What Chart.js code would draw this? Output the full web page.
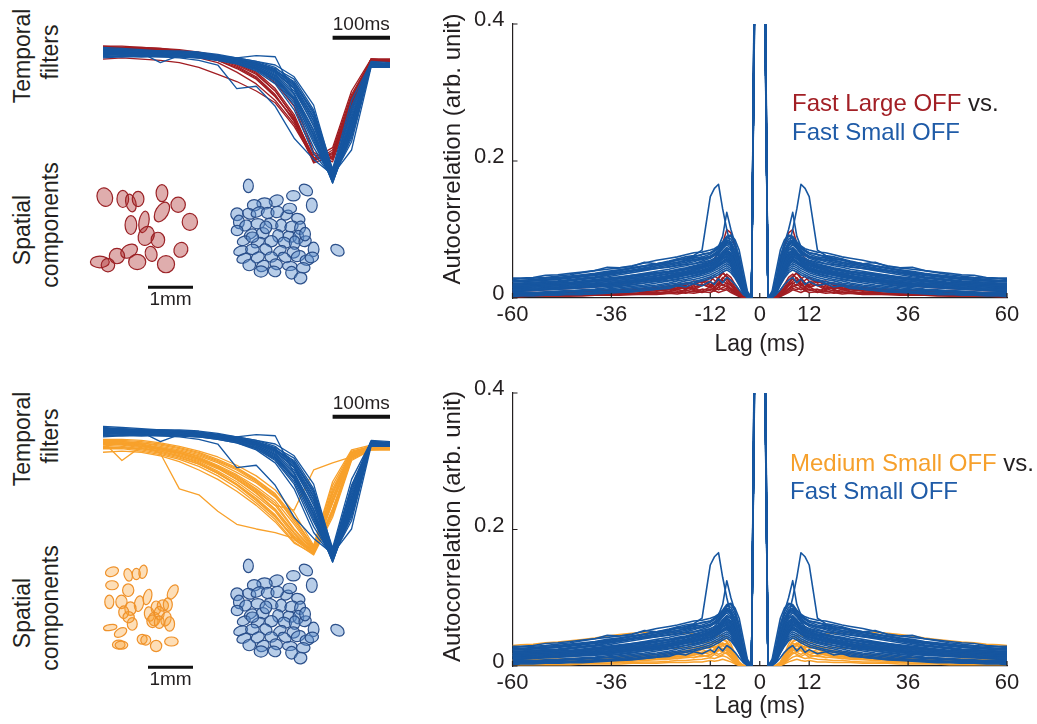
<!DOCTYPE html>
<html lang="en">
<head>
<meta charset="UTF-8">
<title>OFF cell autocorrelations</title>
<script src="https://cdn.jsdelivr.net/npm/chart.js@4"></script>
<style>
  html, body { margin: 0; padding: 0; background: #fff; }
  body {
    width: 1037px; height: 724px; position: relative; overflow: hidden;
    font-family: "Liberation Sans", Arial, sans-serif; color: #231f20;
  }
  canvas { position: absolute; }
  .side {
    position: absolute; font-size: 23px; white-space: nowrap;
    transform: translate(-50%, -50%) rotate(-90deg);
  }
  .key { position: absolute; font-size: 24px; white-space: nowrap; line-height: 29px; }
</style>
</head>
<body>

<div class="side" style="left:22px; top:56px">Temporal</div>
<div class="side" style="left:50px; top:52px">filters</div>
<div class="side" style="left:22px; top:230px">Spatial</div>
<div class="side" style="left:50px; top:225px">components</div>
<div class="side" style="left:22px; top:439px">Temporal</div>
<div class="side" style="left:50px; top:436px">filters</div>
<div class="side" style="left:22px; top:613px">Spatial</div>
<div class="side" style="left:50px; top:608px">components</div>

<canvas id="filtTop" width="315" height="195" style="left:88px; top:0px"></canvas>
<canvas id="spatTop" width="290" height="140" style="left:80px; top:170px"></canvas>
<canvas id="acTop" width="607" height="362" style="left:430px; top:0px"></canvas>
<canvas id="filtBot" width="315" height="195" style="left:88px; top:379px"></canvas>
<canvas id="spatBot" width="290" height="140" style="left:80px; top:550px"></canvas>
<canvas id="acBot" width="607" height="355" style="left:430px; top:369px"></canvas>

<div class="key" style="left:792px; top:88px"><span style="color:#a21f25">Fast Large OFF</span> vs.</div>
<div class="key" style="left:792px; top:117px; color:#1f5ba7">Fast Small OFF</div>
<div class="key" style="left:790px; top:448px"><span style="color:#f6a02c">Medium Small OFF</span> vs.</div>
<div class="key" style="left:790px; top:476px; color:#1f5ba7">Fast Small OFF</div>

<script>
const FONT = '"Liberation Sans", Arial, sans-serif';
const INK = '#231f20';
const BLUE = '#1656a0', RED = '#a11d22', ORANGE = '#f8a12b';

// lags (ms) on one side of zero; autocorrelations are symmetric so the
// negative side is the mirror image
const halfLags = [1,2,3,4,5,6,7,8,9,10,11,12,14,16,18,20,22,25,28,31,34,37,40,43,46,49,52,55,58,60];
const lagTicks = [-60,-36,-12,0,12,36,60];
const acTicks = [0,0.2,0.4];

// Fast Small OFF autocorrelations (arb. unit), one row per cell
const fastSmallAC = [
  [0.62,0,0.01,0.04,0.07,0.085,0.092,0.09,0.082,0.076, 0.072,0.07,0.067,0.066,0.063,0.06,0.058,0.055,0.051,0.047, 0.044,0.042,0.04,0.037,0.034,0.032,0.03,0.029,0.028,0.027],
  [0.58,0,0.005,0.02,0.04,0.06,0.075,0.1,0.13,0.166, 0.16,0.148,0.07,0.062,0.06,0.057,0.054,0.05,0.047,0.044, 0.041,0.038,0.035,0.033,0.031,0.029,0.027,0.026,0.025,0.024],
  [0.6,0,0.008,0.03,0.06,0.08,0.1,0.125,0.09,0.075, 0.07,0.066,0.064,0.06,0.057,0.055,0.052,0.049,0.046,0.043, 0.04,0.037,0.034,0.032,0.03,0.028,0.027,0.026,0.025,0.025],
  [0.65,0,0.006,0.03,0.06,0.08,0.09,0.088,0.08,0.072, 0.068,0.064,0.06,0.058,0.055,0.052,0.05,0.047,0.043,0.04, 0.037,0.034,0.031,0.029,0.027,0.025,0.024,0.023,0.022,0.022],
  [0.55,0,0.004,0.025,0.05,0.07,0.082,0.085,0.077,0.07, 0.065,0.061,0.057,0.053,0.05,0.048,0.046,0.043,0.04,0.037, 0.034,0.031,0.029,0.027,0.025,0.023,0.022,0.021,0.02,0.02],
  [0.7,0,0.005,0.02,0.045,0.065,0.08,0.083,0.075,0.067, 0.062,0.058,0.054,0.05,0.047,0.045,0.042,0.039,0.036,0.033, 0.03,0.028,0.026,0.024,0.022,0.021,0.02,0.019,0.018,0.018],
  [0.6,0,0.003,0.018,0.04,0.06,0.072,0.078,0.072,0.064, 0.058,0.054,0.05,0.047,0.044,0.042,0.039,0.036,0.033,0.03, 0.028,0.026,0.024,0.022,0.02,0.019,0.018,0.017,0.016,0.016],
  [0.66,0,0.004,0.02,0.042,0.058,0.07,0.074,0.068,0.06, 0.055,0.051,0.047,0.044,0.041,0.039,0.036,0.033,0.03,0.028, 0.026,0.024,0.022,0.02,0.019,0.018,0.017,0.016,0.015,0.015],
  [0.57,0,0.003,0.015,0.035,0.052,0.064,0.07,0.066,0.058, 0.052,0.048,0.044,0.041,0.038,0.036,0.033,0.03,0.028,0.026, 0.024,0.022,0.02,0.018,0.017,0.016,0.015,0.014,0.013,0.013],
  [0.63,0,0.002,0.014,0.032,0.048,0.06,0.066,0.062,0.055, 0.049,0.045,0.041,0.038,0.035,0.033,0.031,0.028,0.026,0.024, 0.022,0.02,0.018,0.017,0.016,0.015,0.014,0.013,0.012,0.012],
  [0.59,0,0.002,0.012,0.028,0.044,0.055,0.062,0.058,0.051, 0.046,0.042,0.038,0.035,0.033,0.031,0.029,0.026,0.024,0.022, 0.02,0.018,0.017,0.016,0.015,0.014,0.013,0.012,0.011,0.011],
  [0.68,0,0.002,0.01,0.025,0.04,0.05,0.056,0.053,0.047, 0.042,0.039,0.035,0.032,0.03,0.028,0.026,0.024,0.022,0.02, 0.018,0.017,0.016,0.015,0.014,0.013,0.012,0.011,0.01,0.01],
  [0.61,0,0.002,0.012,0.03,0.045,0.055,0.06,0.057,0.053, 0.05,0.047,0.043,0.04,0.037,0.034,0.031,0.028,0.025,0.022, 0.02,0.018,0.016,0.015,0.014,0.013,0.012,0.011,0.01,0.01],
  [0.56,0,0.002,0.012,0.028,0.042,0.052,0.056,0.053,0.049, 0.046,0.043,0.039,0.036,0.033,0.03,0.028,0.025,0.022,0.019, 0.017,0.015,0.013,0.012,0.011,0.01,0.009,0.008,0.008,0.008],
  [0.64,0,0.001,0.01,0.026,0.04,0.049,0.053,0.05,0.046, 0.043,0.04,0.036,0.033,0.03,0.027,0.025,0.022,0.019,0.017, 0.015,0.013,0.012,0.011,0.01,0.009,0.008,0.007,0.007,0.007],
  [0.6,0,0.001,0.01,0.024,0.037,0.046,0.05,0.047,0.043, 0.04,0.037,0.033,0.03,0.027,0.025,0.022,0.019,0.017,0.015, 0.013,0.012,0.011,0.01,0.009,0.008,0.007,0.006,0.006,0.006],
  [0.58,0,0.001,0.009,0.022,0.034,0.043,0.047,0.044,0.04, 0.037,0.034,0.03,0.027,0.025,0.022,0.02,0.017,0.015,0.013, 0.011,0.01,0.009,0.008,0.007,0.006,0.006,0.005,0.005,0.005],
  [0.62,0,0.001,0.008,0.02,0.031,0.04,0.044,0.041,0.037, 0.034,0.031,0.027,0.024,0.022,0.02,0.018,0.015,0.013,0.011, 0.01,0.009,0.008,0.007,0.006,0.005,0.005,0.004,0.004,0.004],
  [0.66,0,0.001,0.008,0.019,0.029,0.037,0.041,0.038,0.034, 0.031,0.028,0.025,0.022,0.02,0.018,0.016,0.013,0.011,0.009, 0.008,0.007,0.006,0.005,0.005,0.004,0.004,0.003,0.003,0.002],
  [0.6,0,0.003,0.02,0.045,0.062,0.07,0.072,0.065,0.062, 0.064,0.06,0.058,0.06,0.055,0.057,0.052,0.05,0.052,0.046, 0.044,0.045,0.04,0.038,0.036,0.034,0.033,0.03,0.029,0.029],
  [0.6,0,0.002,0.012,0.03,0.05,0.065,0.07,0.066,0.06, 0.057,0.055,0.052,0.05,0.049,0.047,0.045,0.043,0.041,0.04, 0.038,0.036,0.034,0.032,0.03,0.028,0.026,0.025,0.024,0.024],
  [0.6,0,0.002,0.01,0.028,0.046,0.058,0.064,0.06,0.054, 0.05,0.048,0.046,0.044,0.042,0.04,0.038,0.035,0.032,0.03, 0.028,0.026,0.024,0.023,0.022,0.021,0.02,0.019,0.018,0.018],
  [0.6,0,0.001,0.006,0.02,0.035,0.048,0.055,0.052,0.047, 0.044,0.042,0.04,0.038,0.036,0.034,0.032,0.03,0.028,0.026, 0.024,0.022,0.021,0.02,0.019,0.018,0.017,0.016,0.015,0.015],
  [0.6,0,0.002,0.015,0.038,0.058,0.076,0.08,0.073,0.066, 0.062,0.06,0.056,0.055,0.052,0.05,0.048,0.045,0.042,0.039, 0.036,0.033,0.03,0.028,0.026,0.024,0.023,0.022,0.021,0.021],
  [0.6,0,0.001,0.005,0.012,0.02,0.026,0.03,0.022,0.028, 0.02,0.024,0.018,0.021,0.016,0.018,0.014,0.013,0.011,0.01, 0.009,0.008,0.007,0.006,0.006,0.005,0.005,0.004,0.004,0.003],
  [0.6,0,0.004,0.022,0.048,0.066,0.078,0.082,0.075,0.068, 0.064,0.061,0.058,0.056,0.054,0.052,0.05,0.047,0.044,0.041, 0.038,0.035,0.033,0.031,0.029,0.027,0.026,0.025,0.024,0.024],
  [0.6,0,0.003,0.018,0.04,0.056,0.066,0.07,0.065,0.059, 0.055,0.052,0.049,0.046,0.043,0.041,0.039,0.037,0.035,0.033, 0.031,0.029,0.027,0.025,0.023,0.022,0.021,0.02,0.019,0.019],
  [0.6,0,0.003,0.016,0.036,0.052,0.062,0.066,0.061,0.055, 0.051,0.048,0.045,0.042,0.039,0.037,0.035,0.032,0.03,0.028, 0.026,0.024,0.022,0.021,0.02,0.019,0.018,0.017,0.016,0.016],
  [0.6,0,0.002,0.014,0.032,0.047,0.057,0.061,0.057,0.052, 0.048,0.045,0.041,0.038,0.036,0.034,0.032,0.029,0.027,0.025, 0.023,0.021,0.019,0.018,0.017,0.016,0.015,0.014,0.014,0.014],
  [0.6,0,0.002,0.013,0.03,0.044,0.053,0.058,0.054,0.049, 0.045,0.042,0.038,0.036,0.034,0.032,0.03,0.027,0.025,0.023, 0.021,0.019,0.018,0.017,0.016,0.015,0.014,0.013,0.012,0.012],
  [0.6,0,0.005,0.025,0.055,0.075,0.086,0.088,0.08,0.073, 0.069,0.066,0.063,0.061,0.058,0.055,0.053,0.05,0.047,0.044, 0.041,0.039,0.036,0.034,0.032,0.03,0.029,0.027,0.026,0.026],
  [0.6,0,0.003,0.017,0.038,0.054,0.064,0.068,0.063,0.057, 0.053,0.05,0.047,0.045,0.042,0.04,0.038,0.036,0.034,0.032, 0.029,0.027,0.025,0.023,0.021,0.02,0.019,0.018,0.017,0.017]
];

// Fast Large OFF autocorrelations
const fastLargeAC = [
  [0.6,0,0,0.002,0.006,0.012,0.02,0.028,0.024,0.018, 0.022,0.016,0.02,0.014,0.016,0.012,0.013,0.011,0.01,0.009, 0.009,0.008,0.008,0.007,0.007,0.006,0.006,0.006,0.005,0.005],
  [0.62,0,0,0.001,0.004,0.01,0.018,0.024,0.03,0.022, 0.016,0.024,0.018,0.012,0.018,0.014,0.01,0.012,0.009,0.01, 0.008,0.008,0.007,0.007,0.006,0.006,0.005,0.005,0.005,0.005],
  [0.58,0,0,0.003,0.01,0.02,0.03,0.035,0.028,0.02, 0.026,0.03,0.022,0.025,0.018,0.02,0.016,0.015,0.013,0.012, 0.011,0.01,0.009,0.009,0.008,0.008,0.007,0.007,0.006,0.006],
  [0.6,0,0.004,0.02,0.05,0.075,0.095,0.1,0.08,0.065, 0.058,0.052,0.046,0.042,0.038,0.035,0.032,0.028,0.025,0.022, 0.02,0.018,0.016,0.015,0.014,0.013,0.012,0.011,0.011,0.011],
  [0.64,0,0,0.001,0.003,0.007,0.012,0.018,0.015,0.012, 0.015,0.011,0.013,0.009,0.011,0.008,0.009,0.007,0.007,0.006, 0.006,0.005,0.005,0.005,0.004,0.004,0.004,0.004,0.003,0.003],
  [0.6,0,0,0.002,0.005,0.009,0.014,0.02,0.026,0.02, 0.014,0.02,0.026,0.018,0.012,0.017,0.013,0.01,0.012,0.009, 0.008,0.008,0.007,0.006,0.006,0.005,0.005,0.005,0.004,0.004],
  [0.62,0,0,0.001,0.002,0.005,0.008,0.012,0.01,0.008, 0.011,0.008,0.009,0.007,0.008,0.006,0.007,0.005,0.005,0.005, 0.004,0.004,0.004,0.003,0.003,0.003,0.003,0.003,0.002,0.002],
  [0.6,0,0,0.002,0.007,0.014,0.022,0.03,0.038,0.03, 0.022,0.018,0.024,0.02,0.015,0.018,0.014,0.013,0.011,0.01, 0.01,0.009,0.008,0.008,0.007,0.007,0.006,0.006,0.006,0.006],
  [0.61,0,0,0.001,0.004,0.008,0.013,0.016,0.02,0.016, 0.012,0.016,0.01,0.014,0.01,0.012,0.009,0.008,0.008,0.007, 0.007,0.006,0.006,0.005,0.005,0.005,0.004,0.004,0.004,0.004],
  [0.63,0,0,0.002,0.008,0.016,0.026,0.032,0.036,0.028, 0.032,0.024,0.026,0.02,0.022,0.017,0.018,0.015,0.014,0.013, 0.012,0.011,0.01,0.01,0.009,0.009,0.008,0.008,0.008,0.008],
  [0.6,0,0,0.001,0.003,0.006,0.01,0.014,0.012,0.016, 0.01,0.013,0.008,0.011,0.007,0.009,0.007,0.006,0.006,0.005, 0.005,0.004,0.004,0.004,0.003,0.003,0.003,0.003,0.003,0.003],
  [0.6,0,0,0.002,0.006,0.012,0.018,0.022,0.018,0.026, 0.02,0.015,0.02,0.016,0.014,0.015,0.012,0.011,0.01,0.01, 0.009,0.008,0.008,0.007,0.007,0.006,0.006,0.005,0.005,0.005]
];

// Medium Small OFF autocorrelations
const mediumSmallAC = [
  [0.6,0,0,0,0.002,0.008,0.02,0.03,0.034,0.03, 0.026,0.03,0.025,0.022,0.02,0.018,0.016,0.014,0.012,0.011, 0.01,0.009,0.008,0.008,0.007,0.007,0.006,0.006,0.006,0.006],
  [0.6,0,0,0,0.003,0.012,0.025,0.036,0.04,0.032, 0.036,0.028,0.03,0.025,0.022,0.02,0.018,0.016,0.015,0.013, 0.012,0.011,0.01,0.009,0.009,0.008,0.008,0.007,0.007,0.007],
  [0.6,0,0,0,0.001,0.005,0.012,0.018,0.02,0.017, 0.02,0.016,0.014,0.013,0.012,0.011,0.01,0.009,0.008,0.007, 0.007,0.006,0.006,0.005,0.005,0.005,0.004,0.004,0.004,0.004],
  [0.6,0,0,0,0.002,0.01,0.022,0.028,0.024,0.03, 0.024,0.02,0.024,0.019,0.017,0.016,0.014,0.012,0.011,0.01, 0.009,0.008,0.008,0.007,0.007,0.006,0.006,0.005,0.005,0.005],
  [0.6,0,0,0,0.001,0.004,0.009,0.013,0.015,0.013, 0.011,0.012,0.01,0.009,0.008,0.008,0.007,0.006,0.006,0.005, 0.005,0.004,0.004,0.004,0.003,0.003,0.003,0.003,0.003,0.003],
  [0.6,0,0,0.001,0.006,0.018,0.032,0.042,0.045,0.044, 0.043,0.044,0.046,0.047,0.048,0.048,0.049,0.05,0.049,0.048, 0.046,0.044,0.041,0.039,0.037,0.035,0.034,0.032,0.031,0.03],
  [0.6,0,0,0,0.004,0.014,0.026,0.034,0.03,0.038, 0.03,0.026,0.028,0.024,0.022,0.02,0.019,0.017,0.016,0.015, 0.014,0.013,0.012,0.011,0.011,0.01,0.01,0.009,0.009,0.009],
  [0.6,0,0,0,0.001,0.006,0.014,0.022,0.026,0.022, 0.018,0.022,0.018,0.016,0.014,0.013,0.012,0.011,0.01,0.009, 0.008,0.008,0.007,0.007,0.006,0.006,0.006,0.005,0.005,0.005],
  [0.6,0,0,0,0.002,0.007,0.015,0.02,0.017,0.014, 0.017,0.013,0.016,0.012,0.014,0.011,0.012,0.01,0.011,0.009, 0.01,0.008,0.009,0.007,0.008,0.007,0.007,0.006,0.006,0.006],
  [0.6,0,0,0.001,0.005,0.016,0.028,0.036,0.038,0.036, 0.035,0.034,0.034,0.033,0.034,0.033,0.032,0.031,0.03,0.028, 0.027,0.025,0.024,0.022,0.021,0.02,0.019,0.019,0.018,0.018],
  [0.6,0,0,0,0.001,0.003,0.006,0.008,0.01,0.008, 0.007,0.008,0.006,0.006,0.005,0.005,0.005,0.004,0.004,0.004, 0.003,0.003,0.003,0.003,0.002,0.002,0.002,0.002,0.002,0.002],
  [0.6,0,0,0,0.003,0.011,0.02,0.026,0.03,0.027, 0.024,0.022,0.02,0.018,0.017,0.016,0.015,0.014,0.013,0.013, 0.012,0.012,0.011,0.011,0.01,0.01,0.01,0.009,0.009,0.009],
  [0.6,0,0,0.001,0.004,0.013,0.024,0.03,0.032,0.03, 0.028,0.027,0.028,0.027,0.027,0.026,0.026,0.025,0.024,0.023, 0.022,0.021,0.02,0.019,0.018,0.017,0.016,0.016,0.015,0.015],
  [0.6,0,0,0,0.002,0.009,0.018,0.024,0.02,0.024, 0.02,0.017,0.02,0.016,0.015,0.014,0.013,0.012,0.012,0.011, 0.01,0.01,0.009,0.009,0.008,0.008,0.007,0.007,0.007,0.007]
];

// temporal filters: frame times (ms) and normalised filter values
const filterTimes = [0,33,67,100,133,167,200,233,267,300,333,367,400,433,467,500];
const fastSmallFilters = [
  [0.12,0.12,0.11,0.11,0.1,0.09,0.07,0.04, 0.0,-0.08,-0.22,-0.5,-0.98,-0.5,0.02,0.0],
  [0.1,0.1,0.1,0.1,0.09,0.08,0.06,0.03, -0.02,-0.1,-0.27,-0.58,-1.0,-0.55,0.0,-0.01],
  [0.08,0.09,0.09,0.09,0.08,0.07,0.05,0.02, -0.04,-0.13,-0.32,-0.66,-0.97,-0.6,0.01,0.0],
  [0.14,0.13,0.12,0.12,0.11,0.1,0.08,0.06, 0.03,-0.02,-0.15,-0.42,-0.93,-0.42,0.02,0.01],
  [0.06,0.07,0.07,0.08,0.07,0.06,0.04,0.01, -0.05,-0.16,-0.38,-0.75,-0.95,-0.65,0.0,-0.02],
  [0.11,0.11,0.11,0.1,0.1,0.09,0.07,0.05, 0.02,-0.04,-0.18,-0.45,-0.9,-0.35,0.02,0.01],
  [0.09,0.1,0.1,0.09,0.09,0.08,0.06,0.03, -0.01,-0.09,-0.24,-0.55,-0.99,-0.52,0.0,0.0],
  [0.13,0.12,0.12,0.11,0.1,0.09,0.07,0.04, 0.01,-0.06,-0.2,-0.48,-0.96,-0.45,0.01,0.0],
  [0.1,0.1,0.1,0.02,0.08,0.08,0.07,0.06, 0.08,0.07,-0.25,-0.6,-0.94,-0.5,0.0,0.0],
  [0.07,0.08,0.08,0.08,0.07,0.06,0.05,0.02, -0.03,-0.12,-0.3,-0.62,-0.98,-0.58,-0.01,-0.02],
  [0.12,0.12,0.12,0.11,0.11,0.1,0.08,0.05, 0.02,-0.03,-0.12,-0.38,-0.88,-0.3,0.02,0.01],
  [0.1,0.1,0.11,0.1,0.1,0.08,0.06,0.04, 0.0,-0.07,-0.2,-0.52,-0.97,-0.48,0.01,0.0],
  [0.08,0.07,0.08,0.07,0.06,0.04,0.0,-0.2, -0.18,-0.35,-0.62,-0.8,-0.93,-0.72,-0.02,-0.02],
  [0.15,0.14,0.13,0.12,0.12,0.11,0.09,0.06, 0.03,0.0,-0.1,-0.34,-0.9,-0.4,0.03,0.02],
  [0.09,0.09,0.09,0.09,0.08,0.07,0.05,0.03, -0.02,-0.11,-0.28,-0.6,-1.0,-0.55,0.0,-0.01],
  [0.11,0.1,0.1,0.1,0.09,0.08,0.07,0.05, 0.01,-0.05,-0.17,-0.44,-0.95,-0.47,0.01,0.0],
  [0.07,0.08,0.07,0.07,0.07,0.06,0.04,0.01, -0.04,-0.14,-0.34,-0.7,-0.96,-0.62,-0.01,-0.02],
  [0.13,0.13,0.12,0.12,0.11,0.1,0.08,0.05, 0.02,-0.04,-0.16,-0.4,-0.92,-0.38,0.02,0.01],
  [0.1,0.11,0.1,0.1,0.1,0.09,0.07,0.04, 0.0,-0.06,-0.19,-0.47,-0.94,-0.44,0.01,0.0],
  [0.12,0.11,0.11,0.1,0.1,0.09,0.06,0.03, -0.01,-0.09,-0.25,-0.56,-0.97,-0.53,0.0,-0.01],
  [0.09,0.09,0.08,0.08,0.08,0.07,0.05,0.02, -0.03,-0.12,-0.29,-0.64,-0.99,-0.57,0.0,-0.01],
  [0.11,0.12,0.11,0.11,0.1,0.09,0.08,0.05, 0.01,-0.05,-0.14,-0.4,-0.91,-0.36,0.02,0.01]
];
const fastLargeFilters = [
  [0.15,0.15,0.14,0.13,0.12,0.1,0.07,0.02, -0.06,-0.2,-0.42,-0.8,-0.76,-0.3,0.05,0.04],
  [0.14,0.14,0.13,0.12,0.11,0.09,0.05,-0.01, -0.1,-0.25,-0.48,-0.82,-0.72,-0.25,0.04,0.04],
  [0.16,0.15,0.15,0.14,0.12,0.1,0.08,0.04, -0.03,-0.15,-0.35,-0.76,-0.8,-0.35,0.05,0.05],
  [0.12,0.13,0.12,0.11,0.09,0.06,0.02,-0.06, -0.16,-0.3,-0.5,-0.81,-0.74,-0.28,0.04,0.03],
  [0.05,0.06,0.05,0.04,0.02,-0.02,-0.08,-0.14, -0.22,-0.32,-0.52,-0.8,-0.78,-0.32,0.03,0.03],
  [0.15,0.14,0.14,0.13,0.12,0.1,0.06,0.01, -0.07,-0.22,-0.45,-0.79,-0.7,-0.22,0.05,0.04],
  [0.13,0.14,0.13,0.12,0.1,0.08,0.04,-0.02, -0.11,-0.26,-0.47,-0.83,-0.77,-0.33,0.04,0.04],
  [0.16,0.16,0.15,0.14,0.13,0.11,0.08,0.04, -0.02,-0.12,-0.3,-0.74,-0.82,-0.38,0.05,0.05],
  [0.14,0.13,0.13,0.12,0.11,0.08,0.04,-0.03, -0.12,-0.27,-0.46,-0.8,-0.75,-0.27,0.04,0.04],
  [0.15,0.15,0.14,0.13,0.11,0.09,0.06,0.0, -0.08,-0.22,-0.44,-0.78,-0.79,-0.31,0.05,0.04]
];
const mediumSmallFilters = [
  [0.02,0.02,0.0,-0.03,-0.06,-0.11,-0.18,-0.26, -0.36,-0.48,-0.68,-0.9,-0.45,-0.08,-0.02,-0.02],
  [0.0,0.0,-0.02,-0.05,-0.09,-0.14,-0.21,-0.3, -0.42,-0.56,-0.76,-0.93,-0.5,-0.1,-0.03,-0.03],
  [0.03,0.03,0.02,0.0,-0.03,-0.07,-0.13,-0.2, -0.3,-0.42,-0.62,-0.88,-0.4,-0.07,-0.02,-0.02],
  [-0.02,-0.03,-0.05,-0.08,-0.12,-0.17,-0.25,-0.34, -0.46,-0.6,-0.8,-0.92,-0.58,-0.12,-0.04,-0.04],
  [0.02,-0.14,-0.02,-0.04,-0.07,-0.12,-0.19,-0.27, -0.38,-0.5,-0.72,-0.9,-0.42,-0.08,-0.02,-0.02],
  [0.01,0.01,0.0,-0.08,-0.38,-0.43,-0.57,-0.68, -0.72,-0.75,-0.8,-0.92,-0.55,-0.1,-0.03,-0.03],
  [0.01,0.0,-0.02,-0.04,-0.08,-0.13,-0.2,-0.29, -0.4,-0.52,-0.56,-0.22,-0.16,-0.11,-0.05,-0.04],
  [0.0,0.01,-0.01,-0.03,-0.06,-0.1,-0.16,-0.24, -0.33,-0.45,-0.64,-0.87,-0.35,-0.06,-0.02,-0.02],
  [-0.04,-0.04,-0.06,-0.09,-0.13,-0.19,-0.27,-0.37, -0.5,-0.64,-0.83,-0.94,-0.62,-0.14,-0.05,-0.05],
  [0.04,0.04,0.03,0.01,-0.02,-0.06,-0.11,-0.18, -0.27,-0.39,-0.58,-0.86,-0.32,-0.05,-0.01,-0.01],
  [0.01,0.01,-0.01,-0.04,-0.07,-0.12,-0.19,-0.28, -0.39,-0.52,-0.73,-0.91,-0.48,-0.09,-0.03,-0.03],
  [-0.01,-0.02,-0.04,-0.06,-0.1,-0.15,-0.23,-0.32, -0.44,-0.57,-0.78,-0.92,-0.55,-0.11,-0.03,-0.03],
  [0.02,0.02,0.01,-0.02,-0.05,-0.09,-0.15,-0.22, -0.32,-0.44,-0.66,-0.89,-0.38,-0.07,-0.02,-0.02],
  [-0.07,-0.06,-0.07,-0.1,-0.15,-0.22,-0.3,-0.4, -0.52,-0.66,-0.84,-0.93,-0.6,-0.13,-0.05,-0.05],
  [0.0,-0.01,-0.03,-0.06,-0.1,-0.16,-0.24,-0.34, -0.47,-0.61,-0.81,-0.93,-0.57,-0.12,-0.04,-0.04],
  [0.03,0.02,0.01,-0.01,-0.04,-0.08,-0.14,-0.21, -0.31,-0.43,-0.63,-0.88,-0.42,-0.08,-0.02,-0.02],
  [-0.03,-0.03,-0.04,-0.07,-0.11,-0.17,-0.25,-0.35, -0.48,-0.62,-0.79,-0.9,-0.5,-0.1,-0.03,-0.03],
  [0.01,0.0,-0.02,-0.05,-0.08,-0.13,-0.2,-0.3, -0.41,-0.55,-0.75,-0.92,-0.46,-0.09,-0.03,-0.03]
];

// receptive field outlines: centre (mm), half-axes (mm), tilt (deg)
const fastLargeX = [0.44,0.84,1.02,1.18,1.71,2.07,1.71,2.33,1.02,1.31,1.36,1.62,0.98,0.71,0.33,0.51,1.16,1.47,1.8,2.13];
const fastLargeY = [2.13,2.09,2.0,2.09,2.22,1.96,1.8,1.58,1.51,1.58,1.27,1.18,0.93,0.82,0.69,0.62,0.69,0.87,0.64,0.96];
const fastLargeRx = [0.17,0.13,0.11,0.13,0.13,0.16,0.14,0.17,0.13,0.11,0.17,0.15,0.2,0.17,0.21,0.15,0.19,0.13,0.19,0.15];
const fastLargeRy = [0.21,0.19,0.2,0.17,0.19,0.17,0.24,0.19,0.21,0.24,0.22,0.17,0.14,0.17,0.13,0.15,0.17,0.17,0.19,0.17];
const fastLargeTilt = [-20,0,-15,0,0,0,30,0,0,10,25,0,-30,0,0,0,0,-15,0,30];

const fastSmallX = [3.63,4.91,4.63,4.25,3.99,3.76,5.04,3.38,3.65,3.84, 4.06,4.48,4.74,3.42,3.57,3.84,4.14,4.36,4.59,4.78, 3.38,3.68,3.95,4.29,4.55,4.74,3.53,3.84,4.14,4.44, 4.66,4.89,5.08,3.46,3.72,4.02,4.33,4.63,3.53,3.84, 4.14,4.44,4.74,4.93,3.65,3.95,4.25,4.55,4.85,3.91, 4.21,4.59,4.79,5.61,3.72,4.02,4.27,4.55,4.89,5.04];
const fastSmallY = [2.38,2.29,2.16,2.05,1.99,1.95,1.95,1.75,1.76,1.8, 1.78,1.73,1.65,1.58,1.5,1.54,1.54,1.5,1.48,1.45, 1.39,1.31,1.33,1.27,1.25,1.24,1.16,1.12,1.15,1.12, 1.12,1.15,0.97,0.94,0.97,0.97,0.94,0.9,0.77,0.79, 0.8,0.79,0.82,0.73,0.62,0.6,0.64,0.6,0.56,0.48, 0.48,0.45,0.33,0.95,1.24,1.46,1.8,1.88,1.31,0.79];
const fastSmallRx = [0.11,0.16,0.15,0.16,0.17,0.15,0.12,0.14,0.15,0.16, 0.14,0.14,0.15,0.12,0.14,0.15,0.16,0.12,0.15,0.12, 0.13,0.15,0.14,0.12,0.15,0.12,0.15,0.16,0.14,0.15, 0.12,0.14,0.12,0.16,0.15,0.14,0.15,0.14,0.16,0.15, 0.14,0.15,0.16,0.15,0.14,0.15,0.14,0.16,0.15,0.15, 0.14,0.13,0.14,0.16,0.14,0.13,0.14,0.15,0.12,0.15];
const fastSmallRy = [0.15,0.115,0.115,0.125,0.125,0.125,0.16,0.14,0.115,0.1, 0.125,0.1,0.115,0.15,0.115,0.115,0.1,0.14,0.115,0.15, 0.115,0.1,0.125,0.14,0.115,0.15,0.1,0.1,0.125,0.115, 0.15,0.115,0.16,0.1,0.115,0.115,0.1,0.125,0.1,0.115, 0.115,0.1,0.115,0.115,0.125,0.115,0.115,0.1,0.115,0.125, 0.115,0.14,0.125,0.115,0.115,0.14,0.125,0.115,0.15,0.115];
const fastSmallTilt = [0,35,0,-20,0,0,0,0,20,-30, 0,-30,20,0,-30,0,30,0,-20,10, 0,-30,0,0,20,0,-20,-30,0,20, 0,-20,0,-20,0,30,-30,0,-20,-25, 0,30,-20,0,0,-30,20,0,0,0, 20,0,-15,35,0,0,-20,0,0,-15];

const mediumSmallX = [0.6,0.96,1.14,1.29,0.6,0.96,0.54,0.81,1.2,1.39, 1.58,1.73,1.84,1.95,1.01,0.86,1.43,1.54,1.65,1.8, 1.88,1.05,0.56,0.79,1.27,1.35,0.75,0.81,1.58,1.92, 1.5,0.97,1.65];
const mediumSmallY = [2.25,2.18,2.2,2.25,1.95,1.84,1.58,1.58,1.54,1.69, 1.45,1.5,1.52,1.8,1.43,1.35,1.31,1.2,1.33,1.2, 1.09,1.09,1.01,0.9,0.75,0.73,0.63,0.62,0.6,0.7, 1.15,1.24,1.13];
const mediumSmallRx = [0.15,0.09,0.09,0.09,0.14,0.125,0.1,0.125,0.1,0.09, 0.11,0.125,0.1,0.1,0.125,0.11,0.11,0.125,0.11,0.11, 0.11,0.11,0.15,0.15,0.11,0.11,0.14,0.14,0.125,0.15, 0.125,0.125,0.11];
const mediumSmallRy = [0.1,0.14,0.125,0.15,0.1,0.14,0.15,0.15,0.175,0.175, 0.15,0.125,0.15,0.175,0.15,0.14,0.16,0.15,0.15,0.16, 0.16,0.14,0.065,0.09,0.11,0.11,0.1,0.09,0.125,0.1, 0.14,0.125,0.14];
const mediumSmallTilt = [-20,-15,0,10,0,0,0,0,10,15, 0,0,0,30,0,0,-10,0,0,15, 0,0,-10,-30,0,0,0,0,0,0, 0,0,0];

Chart.defaults.font.family = FONT;
Chart.defaults.color = INK;

// build a full -60..60 trace from one side; lag 0 is left out
function mirror(half) {
  const pts = [];
  for (let i = halfLags.length - 1; i >= 0; i--) pts.push({ x: -halfLags[i], y: half[i] });
  pts.push({ x: 0, y: null });
  halfLags.forEach((lag, i) => pts.push({ x: lag, y: half[i] }));
  return pts;
}

function traces(rows, color, pointsOf, width) {
  return rows.map(r => ({
    data: pointsOf(r), borderColor: color, borderWidth: width,
    pointRadius: 0, fill: false, tension: 0, spanGaps: false, borderJoinStyle: 'round'
  }));
}
const filterPoints = r => filterTimes.map((t, i) => ({ x: t, y: r[i] }));

// short tick marks pointing into the plot, plus the rotated y-axis title
const acFrame = {
  id: 'acFrame',
  afterDraw(chart, args, opts) {
    const { ctx, chartArea: a, scales: { x, y } } = chart;
    ctx.save();
    ctx.strokeStyle = INK;
    ctx.lineWidth = 1.2;
    ctx.beginPath();
    x.ticks.forEach(t => { const px = x.getPixelForValue(t.value); ctx.moveTo(px, a.bottom); ctx.lineTo(px, a.bottom - 5); });
    y.ticks.forEach(t => { const py = y.getPixelForValue(t.value); ctx.moveTo(a.left, py); ctx.lineTo(a.left + 5, py); });
    ctx.stroke();

    ctx.translate(23, (a.top + a.bottom) / 2 + opts.titleShift);
    ctx.rotate(-Math.PI / 2);
    ctx.fillStyle = INK;
    ctx.font = '24px ' + FONT;
    ctx.textAlign = 'center';
    ctx.textBaseline = 'middle';
    ctx.fillText(opts.title, 0, 0);
    ctx.restore();
  }
};

function acChart(id, datasets, axisHeight, titleShift) {
  return new Chart(document.getElementById(id), {
    type: 'line',
    data: { datasets },
    options: {
      responsive: false, animation: false, devicePixelRatio: 1,
      layout: { padding: { top: 24, right: 30, left: 0, bottom: 0 } },
      plugins: {
        legend: { display: false }, tooltip: { enabled: false },
        acFrame: { title: 'Autocorrelation (arb. unit)', titleShift }
      },
      scales: {
        x: {
          type: 'linear', min: -60, max: 60,
          afterBuildTicks: s => { s.ticks = lagTicks.map(v => ({ value: v })); },
          afterFit: s => { s.height = axisHeight; },
          grid: { drawOnChartArea: false, drawTicks: false },
          border: { display: true, color: INK, width: 1.2 },
          ticks: { font: { size: 22 }, padding: 4, maxRotation: 0, autoSkip: false, callback: v => String(v) },
          title: { display: true, text: 'Lag (ms)', font: { size: 23 }, padding: { top: 0, bottom: 4 } }
        },
        y: {
          min: 0, max: 0.4,
          afterBuildTicks: s => { s.ticks = acTicks.map(v => ({ value: v })); },
          afterFit: s => { s.width = 82.5; },
          grid: { drawOnChartArea: false, drawTicks: false },
          border: { display: true, color: INK, width: 1.2 },
          ticks: { font: { size: 22 }, padding: 8, labelOffset: -4, callback: v => v === 0 ? '0' : v.toFixed(1) }
        }
      }
    },
    plugins: [acFrame]
  });
}

// 100 ms scale bar above the filters
const timeBar = {
  id: 'timeBar',
  afterDraw(chart, args, opts) {
    const { ctx, scales: { x, y } } = chart;
    const x0 = x.getPixelForValue(opts.from), x1 = x.getPixelForValue(opts.to);
    const yb = y.getPixelForValue(0.23);
    ctx.save();
    ctx.strokeStyle = '#111';
    ctx.lineWidth = 4;
    ctx.beginPath(); ctx.moveTo(x0, yb); ctx.lineTo(x1, yb); ctx.stroke();
    ctx.fillStyle = INK;
    ctx.font = '19px ' + FONT;
    ctx.textAlign = 'center';
    ctx.textBaseline = 'bottom';
    ctx.fillText(opts.label, (x0 + x1) / 2, yb - 4);
    ctx.restore();
  }
};

function filterChart(id, datasets) {
  return new Chart(document.getElementById(id), {
    type: 'line',
    data: { datasets },
    options: {
      responsive: false, animation: false, devicePixelRatio: 1,
      layout: { padding: { left: 15, right: 13, top: 41.4, bottom: 9.6 } },
      plugins: {
        legend: { display: false }, tooltip: { enabled: false },
        timeBar: { from: 400, to: 500, label: '100ms' }
      },
      scales: {
        x: { type: 'linear', display: false, min: 0, max: 500 },
        y: { display: false, min: -1.02, max: 0.2 }
      }
    },
    plugins: [timeBar]
  });
}

// filled ellipses for each receptive field, sized in mm through the scales
const ellipses = {
  id: 'ellipses',
  afterDatasetsDraw(chart) {
    const { ctx, scales: { x, y } } = chart;
    const mmX = Math.abs(x.getPixelForValue(1) - x.getPixelForValue(0));
    const mmY = Math.abs(y.getPixelForValue(1) - y.getPixelForValue(0));
    chart.data.datasets.forEach((ds, i) => {
      const meta = chart.getDatasetMeta(i);
      ctx.save();
      ctx.fillStyle = ds.ellipseFill;
      ctx.strokeStyle = ds.ellipseStroke;
      ctx.lineWidth = 1.2;
      meta.data.forEach((pt, j) => {
        ctx.beginPath();
        ctx.ellipse(pt.x, pt.y, ds.rx[j] * mmX, ds.ry[j] * mmY, ds.tilt[j] * Math.PI / 180, 0, Math.PI * 2);
        ctx.fill();
        ctx.stroke();
      });
      ctx.restore();
    });
  }
};

// 1 mm scale bar under the mosaics
const mmBar = {
  id: 'mmBar',
  afterDraw(chart, args, opts) {
    const { ctx, scales: { x, y } } = chart;
    const x0 = x.getPixelForValue(opts.from), x1 = x.getPixelForValue(opts.to);
    const yb = y.getPixelForValue(0.13);
    ctx.save();
    ctx.strokeStyle = '#111';
    ctx.lineWidth = 3;
    ctx.beginPath(); ctx.moveTo(x0, yb); ctx.lineTo(x1, yb); ctx.stroke();
    ctx.fillStyle = INK;
    ctx.font = '19px ' + FONT;
    ctx.textAlign = 'center';
    ctx.textBaseline = 'top';
    ctx.fillText(opts.label, (x0 + x1) / 2, yb + 3);
    ctx.restore();
  }
};

function mosaic(xs, ys, rx, ry, tilt, fill, stroke) {
  return {
    data: xs.map((v, i) => ({ x: v, y: ys[i] })),
    rx, ry, tilt, ellipseFill: fill, ellipseStroke: stroke,
    pointRadius: 0, showLine: false
  };
}

function spatialChart(id, datasets) {
  return new Chart(document.getElementById(id), {
    type: 'scatter',
    data: { datasets },
    options: {
      responsive: false, animation: false, devicePixelRatio: 1,
      layout: { padding: { left: 5, right: 15, top: 6, bottom: 17 } },
      plugins: {
        legend: { display: false }, tooltip: { enabled: false },
        mmBar: { from: 1.4, to: 2.4, label: '1mm' }
      },
      scales: {
        x: { type: 'linear', display: false, min: 0, max: 6 },
        y: { display: false, min: 0, max: 2.6 }
      }
    },
    plugins: [ellipses, mmBar]
  });
}

const smallMosaic = () => mosaic(fastSmallX, fastSmallY, fastSmallRx, fastSmallRy, fastSmallTilt,
  'rgba(95,145,205,0.45)', '#2b4f8a');

// top row: Fast Large OFF vs Fast Small OFF
filterChart('filtTop', [
  ...traces(fastSmallFilters, BLUE, filterPoints, 1.3),
  ...traces(fastLargeFilters, RED, filterPoints, 1.3)
]);
spatialChart('spatTop', [
  mosaic(fastLargeX, fastLargeY, fastLargeRx, fastLargeRy, fastLargeTilt, 'rgba(170,40,40,0.38)', '#9b2226'),
  smallMosaic()
]);
acChart('acTop', [
  ...traces(fastSmallAC, BLUE, mirror, 1.6),
  ...traces(fastLargeAC, RED, mirror, 1.5)
], 64, -12);

// bottom row: Medium Small OFF vs Fast Small OFF
filterChart('filtBot', [
  ...traces(fastSmallFilters, BLUE, filterPoints, 1.3),
  ...traces(mediumSmallFilters, ORANGE, filterPoints, 1.3)
]);
spatialChart('spatBot', [
  mosaic(mediumSmallX, mediumSmallY, mediumSmallRx, mediumSmallRy, mediumSmallTilt, 'rgba(248,160,50,0.35)', '#ef922b'),
  smallMosaic()
]);
acChart('acBot', [
  ...traces(fastSmallAC, BLUE, mirror, 1.6),
  ...traces(mediumSmallAC, ORANGE, mirror, 1.5)
], 58, -3);
</script>
</body>
</html>
